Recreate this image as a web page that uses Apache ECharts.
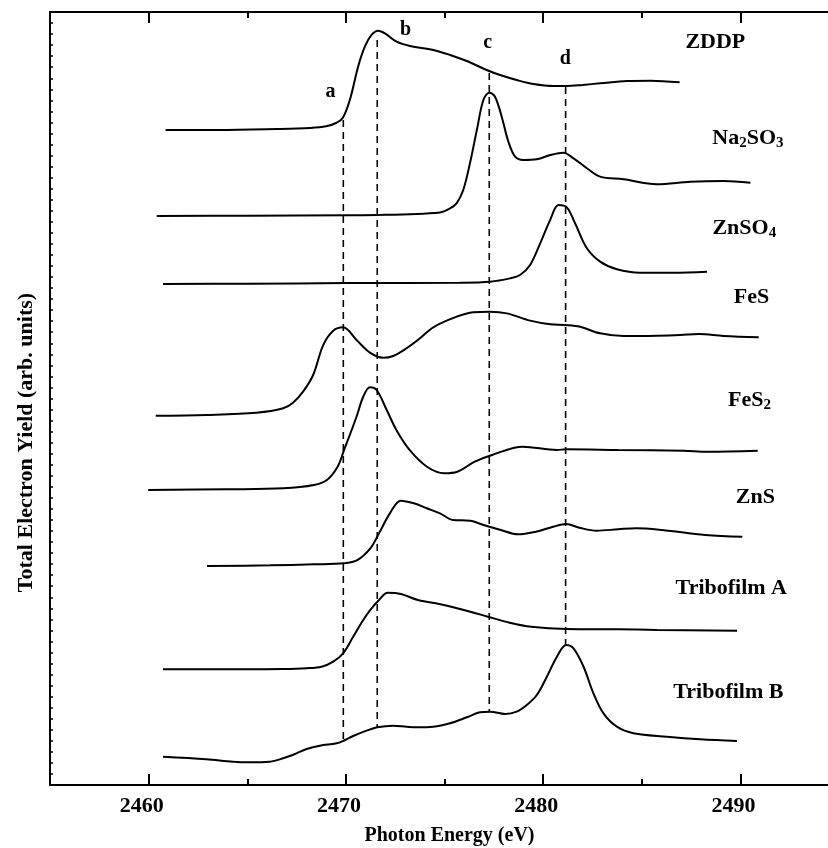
<!DOCTYPE html>
<html><head><meta charset="utf-8">
<script src="https://cdn.jsdelivr.net/npm/echarts@6/dist/echarts.min.js"></script>
<style>html,body{margin:0;padding:0;background:#fff}#c{width:828px;height:848px}</style>
</head><body><div id="c"></div>
<script>
// ---- data (photon energy in eV, total electron yield in arb. units, offset stacked) ----
const spectrumNames = ['ZDDP', 'Na2SO3', 'ZnSO4', 'FeS', 'FeS2', 'ZnS', 'Tribofilm A', 'Tribofilm B'];

const energyZDDP = [2460.86,2463.5,2466.5,2468.2,2469.0,2469.5,2469.84,2470.20,2470.62,2470.96,2471.30,2471.64,2471.98,2472.57,2473.25,2474.43,2475.28,2476.13,2477.14,2477.82,2478.66,2479.51,2480.52,2481.20,2482.0,2482.89,2484.25,2485.43,2486.92];
const yieldZDDP  = [59.31,59.31,59.40,59.50,59.65,59.95,60.40,62.03,65.05,66.86,67.92,68.31,68.07,67.31,66.92,66.56,66.11,65.56,64.75,64.29,63.84,63.48,63.30,63.30,63.40,63.54,63.75,63.78,63.63];

const energyNa2SO3 = [2460.41,2465.0,2470.0,2471.59,2474.77,2475.28,2475.62,2475.95,2476.29,2476.64,2476.97,2477.27,2477.56,2477.90,2478.24,2478.58,2479.00,2479.68,2480.36,2481.03,2481.54,2482.22,2482.89,2484.08,2485.77,2487.46,2489.15,2490.51];
const yieldNa2SO3  = [51.53,51.55,51.60,51.62,51.85,52.22,52.70,53.88,56.30,59.31,62.03,62.69,62.33,60.52,58.25,56.90,56.60,56.66,57.05,57.26,56.75,55.85,55.09,54.85,54.40,54.63,54.70,54.54];

const energyZnSO4 = [2460.73,2465.0,2470.0,2475.79,2477.31,2478.32,2478.83,2479.34,2479.85,2480.36,2480.78,2481.20,2481.62,2482.22,2482.89,2483.74,2484.92,2486.61,2488.31];
const yieldZnSO4  = [45.37,45.40,45.45,45.49,45.58,45.88,46.18,47.09,49.05,51.18,52.52,52.31,50.87,48.60,47.39,46.70,46.39,46.39,46.48];

const energyFeS = [2460.36,2462.93,2465.47,2466.82,2467.32,2467.83,2468.34,2468.85,2469.36,2469.86,2470.54,2471.22,2471.89,2472.40,2473.08,2473.76,2474.43,2475.62,2476.46,2477.31,2478.16,2479.34,2480.36,2481.12,2481.88,2482.89,2484.08,2485.77,2486.95,2487.88,2489.15,2490.93];
const yieldFeS  = [33.44,33.51,33.71,34.11,34.62,35.62,37.13,39.84,41.14,41.45,40.30,39.15,38.69,38.85,39.55,40.45,41.45,42.41,42.81,42.86,42.71,42.05,41.72,41.66,41.50,40.90,40.66,40.69,40.75,40.84,40.66,40.54];

const energyFeS2 = [2459.98,2463.96,2466.83,2468.38,2469.04,2469.58,2469.91,2470.54,2470.88,2471.22,2471.56,2472.07,2472.56,2473.23,2474.11,2474.99,2475.65,2476.54,2477.41,2478.96,2480.70,2481.17,2483.81,2487.13,2488.31,2490.88];
const yieldFeS2  = [26.71,26.78,26.87,27.17,27.62,28.82,30.34,33.35,35.16,36.01,35.77,33.96,32.15,30.34,28.82,28.23,28.37,29.28,29.88,30.64,30.34,30.40,30.34,30.27,30.18,30.27];

const energyZnS = [2462.96,2466.16,2468.38,2469.91,2470.58,2471.24,2471.68,2472.23,2472.79,2473.45,2474.11,2474.77,2475.43,2476.31,2476.98,2477.86,2478.73,2479.63,2480.51,2481.17,2481.83,2482.72,2483.81,2484.71,2486.03,2488.22,2490.10];
const yieldZnS  = [19.83,19.89,19.98,20.08,20.37,21.43,22.79,24.60,25.75,25.51,25.06,24.60,24.00,23.93,23.54,23.09,22.70,22.94,23.39,23.63,23.30,23.03,23.16,23.25,23.09,22.64,22.48];

const energyTriboA = [2460.73,2464.62,2466.82,2468.01,2468.77,2469.36,2469.86,2470.37,2470.88,2471.24,2471.68,2472.12,2472.79,2473.65,2474.97,2476.31,2477.20,2478.30,2479.39,2481.17,2483.81,2485.77,2489.83];
const yieldTriboA  = [10.48,10.48,10.50,10.57,10.71,11.17,11.93,13.43,14.94,15.85,16.75,17.41,17.30,16.75,16.30,15.69,15.24,14.70,14.33,14.13,14.10,14.04,13.97];

const energyTriboB = [2460.73,2462.93,2464.28,2465.13,2466.14,2466.82,2467.50,2468.01,2468.68,2469.53,2469.88,2470.37,2471.05,2471.59,2472.40,2473.08,2473.59,2474.43,2475.28,2476.13,2476.80,2477.31,2478.07,2478.66,2479.17,2479.68,2480.19,2480.70,2481.17,2481.54,2482.05,2482.55,2483.06,2483.74,2484.58,2486.28,2487.97,2489.83];
const yieldTriboB  = [2.56,2.33,2.11,2.06,2.11,2.42,2.87,3.26,3.56,3.78,4.01,4.44,4.92,5.23,5.37,5.28,5.23,5.28,5.59,6.13,6.58,6.64,6.43,6.64,7.24,8.15,9.81,11.62,12.68,12.38,10.71,8.30,6.49,5.28,4.68,4.37,4.14,3.98];

// reference features a-d (energy, dashed line from upper yield to lower yield)
const featureNames  = ['a', 'b', 'c', 'd'];
const featureEnergy = [2469.87, 2471.59, 2477.27, 2481.14];
const featureTop    = [60.22, 67.46, 64.48, 63.21];
const featureBottom = [3.98, 5.25, 6.70, 12.68];

// axis ticks
const majorTicks = [2460, 2470, 2480, 2490];
const minorTicks = [2465, 2475, 2485];

// annotation anchors (data coordinates)
const featureLabelEnergy = [2469.22, 2473.03, 2477.19, 2481.12];
const featureLabelYield  = [62.80, 68.43, 67.17, 65.72];
const nameLabelEnergy = [2488.73, 2490.38, 2490.20, 2490.56, 2490.46, 2490.76, 2489.54, 2489.39];
const nameLabelYield  = [67.28, 58.59, 50.44, 44.19, 34.86, 26.08, 17.84, 8.42];

// ---- chart ----
const FONT = "'Liberation Serif','Times New Roman',serif";
const spectra = [
  [energyZDDP, yieldZDDP], [energyNa2SO3, yieldNa2SO3], [energyZnSO4, yieldZnSO4],
  [energyFeS, yieldFeS], [energyFeS2, yieldFeS2], [energyZnS, yieldZnS],
  [energyTriboA, yieldTriboA], [energyTriboB, yieldTriboB]
];
const zip = (a, b) => a.map((v, i) => [v, b[i]]);
const series = [];
spectra.forEach((s, i) => {
  series.push({
    type: 'line', name: spectrumNames[i], data: zip(s[0], s[1]),
    smooth: 0.35, symbol: 'none', silent: true, clip: false,
    lineStyle: { color: '#000', width: 2 }
  });
});
featureEnergy.forEach((e, i) => {
  series.push({
    type: 'line', data: [[e, featureTop[i]], [e, featureBottom[i]]],
    symbol: 'none', silent: true,
    lineStyle: { color: '#000', width: 1.6, type: [7, 5] }
  });
});
series.push({
  type: 'scatter', symbolSize: 0, silent: true, itemStyle: { opacity: 1 },
  data: featureLabelEnergy.map((e, i) => ({ value: [e, featureLabelYield[i]], name: featureNames[i] })),
  label: { show: true, position: 'inside', formatter: p => p.name, textBorderWidth: 0, opacity: 1,
    fontFamily: FONT, fontWeight: 'bold', fontSize: 20, color: '#000' }
});
const labelText = {
  'Na2SO3': '{n|Na}{s|2}{n|SO}{s|3}',
  'ZnSO4': '{n|ZnSO}{s|4}',
  'FeS2': '{n|FeS}{s|2}'
};
series.push({
  type: 'scatter', symbolSize: 0, silent: true, itemStyle: { opacity: 1 },
  data: nameLabelEnergy.map((e, i) => ({ value: [e, nameLabelYield[i]], name: spectrumNames[i] })),
  label: { show: true, position: 'inside', color: '#000', textBorderWidth: 0, opacity: 1,
    formatter: p => labelText[p.name] || ('{n|' + p.name + '}'),
    rich: {
      n: { fontFamily: FONT, fontWeight: 'bold', fontSize: 22, color: '#000' },
      s: { fontFamily: FONT, fontWeight: 'bold', fontSize: 15, color: '#000', padding: [11, 0, 0, 0] }
    }
  }
});

const baseX = { type: 'value', min: 2455, max: 2495, gridIndex: 0, splitLine: { show: false } };
const chart = echarts.init(document.getElementById('c'));
chart.setOption({
  animation: false,
  grid: { left: 50, top: 12, width: 789, height: 773, outerBoundsMode: 'none', containLabel: false },
  xAxis: [
    Object.assign({}, baseX, {
      position: 'bottom',
      axisLine: { show: true, lineStyle: { color: '#000', width: 2 } },
      axisTick: { show: true, inside: true, length: 11, customValues: majorTicks, lineStyle: { color: '#000', width: 2 } },
      axisLabel: { show: true, customValues: majorTicks, margin: 10, padding: [0, 14, 0, 0],
        formatter: v => String(v),
        fontFamily: FONT, fontWeight: 'bold', fontSize: 22, color: '#000' },
      name: 'Photon Energy (eV)', nameLocation: 'middle', nameGap: 41,
      nameTextStyle: { fontFamily: FONT, fontWeight: 'bold', fontSize: 20, color: '#000', padding: [0, 0, 0, 10] }
    }),
    Object.assign({}, baseX, {
      position: 'bottom', axisLine: { show: false },
      axisTick: { show: true, inside: true, length: 6, customValues: minorTicks, lineStyle: { color: '#000', width: 2 } },
      axisLabel: { show: false }
    }),
    Object.assign({}, baseX, {
      position: 'top',
      axisLine: { show: true, lineStyle: { color: '#000', width: 2 } },
      axisTick: { show: true, inside: true, length: 11, customValues: majorTicks, lineStyle: { color: '#000', width: 2 } },
      axisLabel: { show: false }
    }),
    Object.assign({}, baseX, {
      position: 'top', axisLine: { show: false },
      axisTick: { show: true, inside: true, length: 6, customValues: minorTicks, lineStyle: { color: '#000', width: 2 } },
      axisLabel: { show: false }
    })
  ],
  yAxis: [{
    type: 'value', min: 0, max: 70, interval: 1, position: 'left',
    splitLine: { show: false },
    axisLine: { show: true, lineStyle: { color: '#000', width: 2 } },
    axisTick: { show: true, inside: true, length: 3, lineStyle: { color: '#000', width: 1.5 } },
    axisLabel: { show: false },
    name: 'Total Electron Yield (arb. units)', nameLocation: 'middle', nameGap: 13, nameRotate: 90,
    nameTextStyle: { fontFamily: FONT, fontWeight: 'bold', fontSize: 22, color: '#000', padding: [0, 88, 0, 0] }
  }],
  series: series
});
</script>
</body></html>
